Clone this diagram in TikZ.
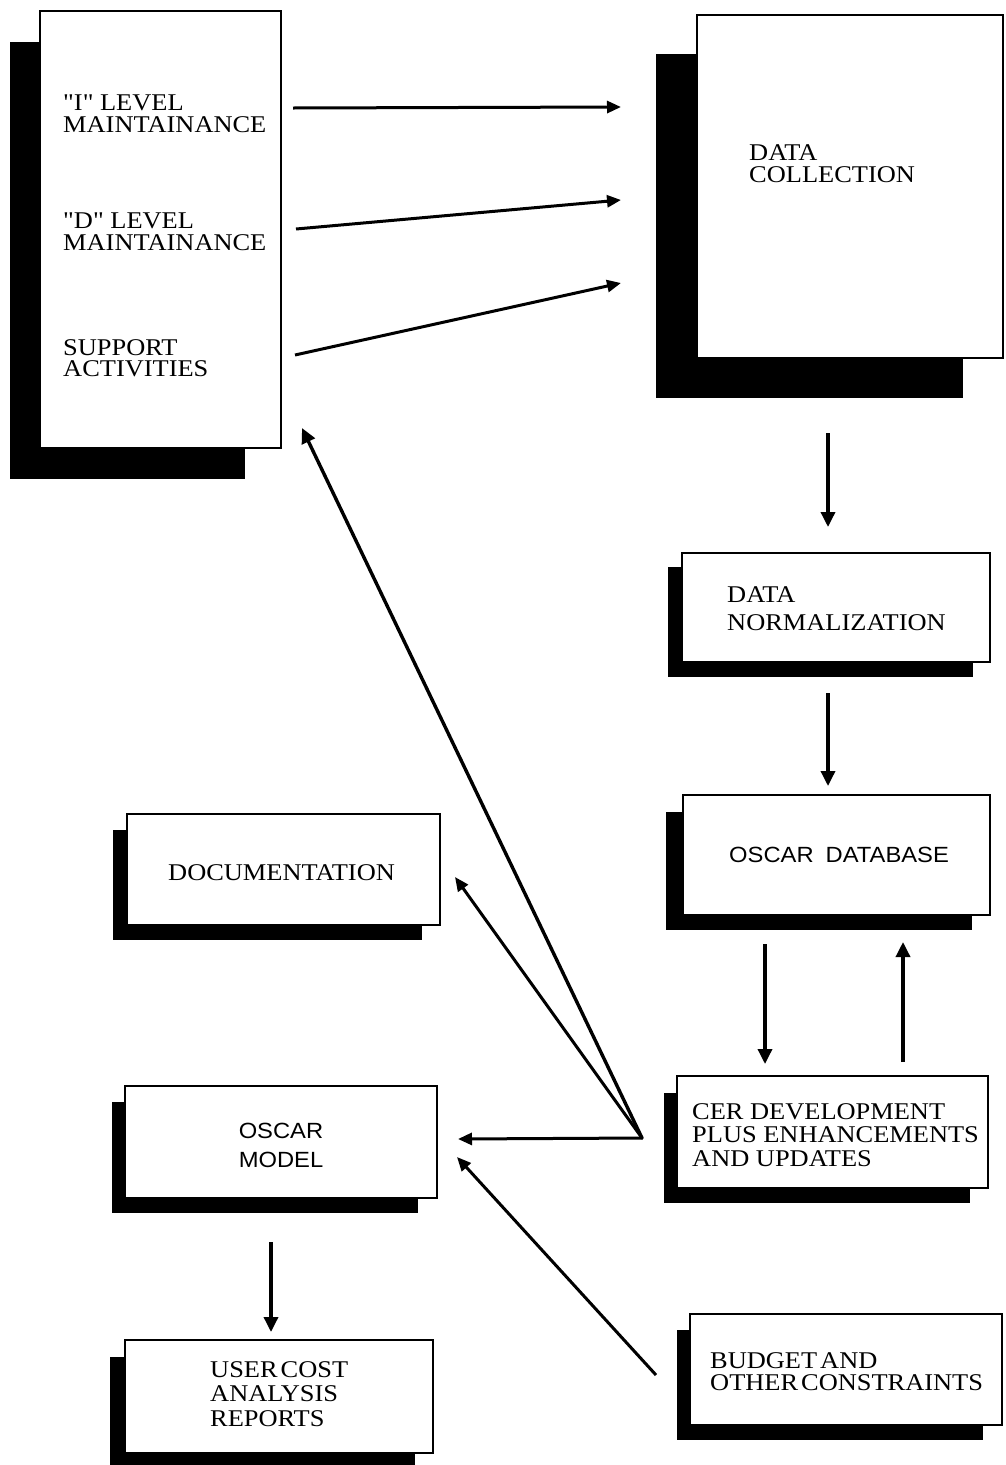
\documentclass[tikz,border=0pt]{standalone}
\usepackage{fontspec}
\usetikzlibrary{arrows.meta,fit}
\newfontfamily\serf[FakeStretch=1.1]{Liberation Serif}
\newfontfamily\sanf[FakeStretch=1.08]{Liberation Sans}
\newcommand\lstack[2]{\vtop{\baselineskip=#1\lineskiplimit=-40pt\halign{##\hfil\cr#2\crcr}}}
\newcommand\cstack[2]{\vtop{\baselineskip=#1\lineskiplimit=-40pt\halign{\hfil##\hfil\cr#2\crcr}}}
\begin{document}
\begin{tikzpicture}[x=1pt,y=-1pt,
  box/.style={draw=black,line width=2.6pt,fill=white,inner sep=0pt},
  shade/.style={fill=black},
  lbl/.style={anchor=base west,inner sep=0pt,font=\serf\fontsize{24}{20}\selectfont},
  slbl/.style={anchor=base west,inner sep=0pt,font=\sanf\fontsize{22}{20}\selectfont},
  arr/.style={line width=3.4pt,-{Triangle[length=15pt,width=14pt]}},
  tarr/.style={line width=3pt,-{Triangle[length=14pt,width=12pt]}}]
\useasboundingbox (0,0) rectangle (1005,1465);
\fill[white] (0,0) rectangle (1005,1465);
% shadows
\fill[shade] (10,42) rectangle (245,479);
\fill[shade] (656,54) rectangle (963,398);
\fill[shade] (668,567) rectangle (973,677);
\fill[shade] (666,812) rectangle (972,930);
\fill[shade] (664,1093) rectangle (970,1203);
\fill[shade] (677,1330) rectangle (983,1440);
\fill[shade] (113,830) rectangle (422,940);
\fill[shade] (112,1102) rectangle (418,1213);
\fill[shade] (110,1357) rectangle (415,1475);
% boxes
\node[box,fit={(40,11) (281,448)}] (L) {};
\node[box,fit={(697,15) (1003,358)}] (DC) {};
\node[box,fit={(682,553) (990,662)}] (DN) {};
\node[box,fit={(683,795) (990,915)}] (DB) {};
\node[box,fit={(677,1076) (988,1188)}] (CER) {};
\node[box,fit={(690,1314) (1002,1425)}] (BUD) {};
\node[box,fit={(127,814) (440,925)}] (DOC) {};
\node[box,fit={(125,1086) (437,1198)}] (MOD) {};
\node[box,fit={(125,1340) (433,1453)}] (USR) {};
% texts
\node[lbl] (tI) at (63,110) {\lstack{22pt}{"I" LEVEL\cr MAINTAINANCE}};
\node[lbl] (tD) at (63,228) {\lstack{22pt}{"D" LEVEL\cr MAINTAINANCE}};
\node[lbl] (tS) at (63,355) {\lstack{21.5pt}{SUPPORT\cr ACTIVITIES}};
\node[lbl] (tDC) at (749,160) {\lstack{22pt}{DATA\cr COLLECTION}};
\node[lbl] (tDN) at (727,602) {\lstack{28pt}{DATA\cr NORMALIZATION}};
\node[slbl] (tDB) at (729,862) {OSCAR\hspace{12pt}DATABASE};
\node[lbl] (tCER) at (692,1119) {\lstack{23.5pt}{CER DEVELOPMENT\cr PLUS ENHANCEMENTS\cr AND UPDATES}};
\node[lbl] (tBUD) at (710,1368) {\lstack{22pt}{BUDGET\hspace{3pt}AND\cr OTHER\hspace{3pt}CONSTRAINTS}};
\node[lbl] (tDOC) at (168,880) {DOCUMENTATION};
\node[slbl,anchor=base] (tMOD) at (281,1138) {\cstack{29pt}{OSCAR\cr MODEL}};
\node[lbl] (tUSR) at (210,1377) {\lstack{24.5pt}{USER\hspace{3pt}COST\cr ANALYSIS\cr REPORTS}};
% connector end points
\coordinate (a1s) at (293,108); \coordinate (a1e) at (621,107);
\coordinate (a2s) at (296,229); \coordinate (a2e) at (621,200);
\coordinate (a3s) at (295,355); \coordinate (a3e) at (621,283);
\coordinate (b1s) at (828,433); \coordinate (b1e) at (828,527);
\coordinate (b2s) at (828,693); \coordinate (b2e) at (828,786);
\coordinate (c1s) at (765,944); \coordinate (c1e) at (765,1064);
\coordinate (c2s) at (903,1062); \coordinate (c2e) at (903,942);
\coordinate (hub) at (642,1138);
\coordinate (d1e) at (302,428);
\coordinate (d2e) at (455,877);
\coordinate (d3e) at (458,1139);
\coordinate (e1s) at (656,1375); \coordinate (e1e) at (457,1157);
\coordinate (f1s) at (271,1242); \coordinate (f1e) at (271,1332);
% connectors
\draw[tarr] (a1s) -- (a1e);
\draw[tarr] (a2s) -- (a2e);
\draw[tarr] (a3s) -- (a3e);
\draw[arr] (b1s) -- (b1e);
\draw[arr] (b2s) -- (b2e);
\draw[arr] (c1s) -- (c1e);
\draw[arr] (c2s) -- (c2e);
\draw[arr,line cap=round] (hub) -- (d1e);
\draw[tarr,line cap=round] (hub) -- (d2e);
\draw[tarr,line cap=round] (hub) -- (d3e);
\draw[tarr] (e1s) -- (e1e);
\draw[arr] (f1s) -- (f1e);
\end{tikzpicture}
\end{document}
